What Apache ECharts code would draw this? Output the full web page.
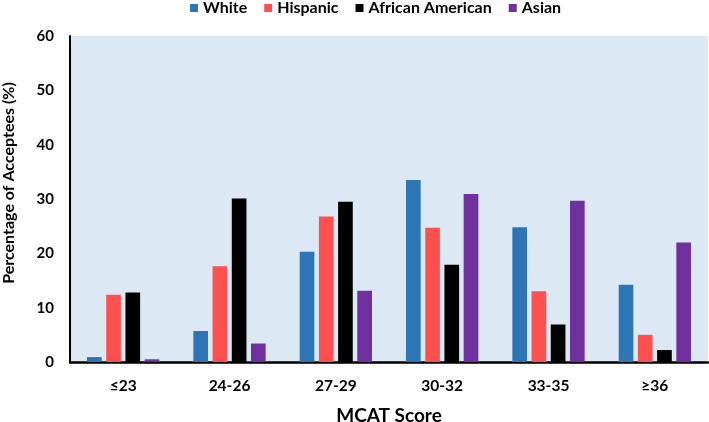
<!DOCTYPE html>
<html>
<head>
<meta charset="utf-8">
<script src="https://cdn.jsdelivr.net/npm/echarts@6/dist/echarts.min.js"></script>
<style>html,body{margin:0;padding:0;background:#fff;}#c{width:709px;height:422px;}</style>
</head>
<body>
<div id="c"></div>
<script>
var categories = ['≤23', '24-26', '27-29', '30-32', '33-35', '≥36'];
var seriesNames = ['White', 'Hispanic', 'African American', 'Asian'];
var white = [0.9, 5.7, 20.3, 33.5, 24.8, 14.2];
var hispanic = [12.4, 17.6, 26.8, 24.7, 13.0, 5.0];
var africanAmerican = [12.8, 30.1, 29.5, 17.9, 6.9, 2.2];
var asian = [0.5, 3.4, 13.1, 30.9, 29.7, 22.0];
var yTicks = [0, 10, 20, 30, 40, 50, 60];
var colors = ['#2e75b6', '#ff5050', '#000000', '#7030a0'];

var FONT = 'Lato, "Open Sans", sans-serif';
var chart = echarts.init(document.getElementById('c'));
var values = [white, hispanic, africanAmerican, asian];
chart.setOption({
  animation: false,
  color: colors,
  textStyle: {fontFamily: FONT},
  legend: {
    top: 0, left: 190, padding: 0,
    itemWidth: 8, itemHeight: 8, itemGap: 17,
    icon: 'rect',
    textStyle: {fontFamily: FONT, fontWeight: 'bold', fontSize: 16, color: '#000'},
    data: seriesNames
  },
  grid: {left: 70, right: 1, top: 36, bottom: 60, show: true, backgroundColor: '#dde8f5', borderWidth: 0, outerBoundsMode: 'none'},
  xAxis: {
    type: 'category', data: categories,
    name: 'MCAT Score', nameLocation: 'middle', nameGap: 44,
    nameTextStyle: {fontFamily: FONT, fontWeight: 'bold', fontSize: 19, color: '#000'},
    axisLine: {lineStyle: {color: '#000', width: 2.5}},
    axisTick: {show: false},
    axisLabel: {fontFamily: FONT, fontWeight: 'bold', fontSize: 15.5, color: '#000', margin: 16}
  },
  yAxis: {
    type: 'value', min: 0, max: 60, interval: 10,
    name: 'Percentage of Acceptees (%)', nameLocation: 'middle', nameGap: 53,
    nameTextStyle: {fontFamily: FONT, fontWeight: 'bold', fontSize: 16, color: '#000', padding: [0, 0, 0, 32]},
    axisLine: {show: true, lineStyle: {color: '#000', width: 2}},
    axisTick: {show: false},
    splitLine: {show: false},
    axisLabel: {fontFamily: FONT, fontWeight: 'bold', fontSize: 15, color: '#000', margin: 16,
      formatter: function (v) { return yTicks.indexOf(v) >= 0 ? String(v) : ''; }}
  },
  series: seriesNames.map(function (n, i) {
    return {
      name: n, type: 'bar', data: values[i],
      barGap: '31%', barCategoryGap: '32%',
      itemStyle: {color: colors[i]}
    };
  })
});
</script>
</body>
</html>
